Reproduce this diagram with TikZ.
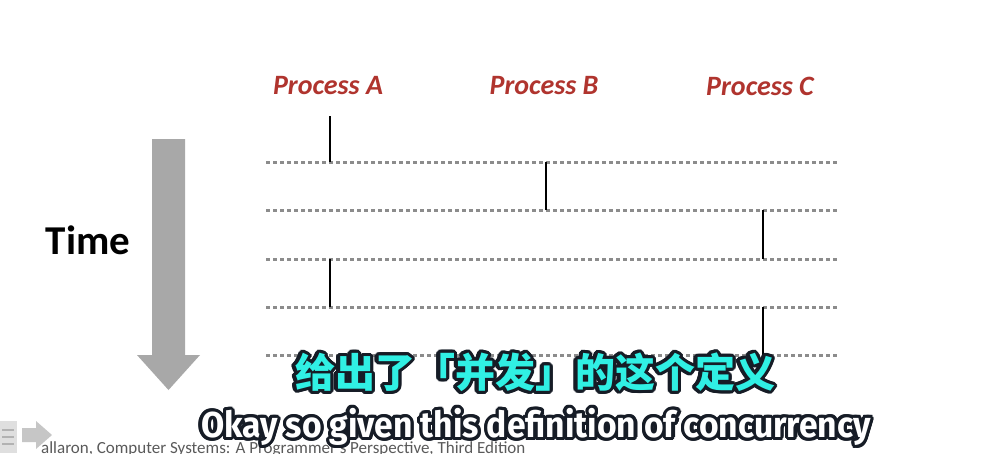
\documentclass[tikz,border=0pt]{standalone}
\usepackage{fontspec}
\newfontfamily\calib{Carlito}
\newfontfamily\cjk{Noto Sans CJK SC}
\newfontfamily\subfont{Fira Sans}
\usetikzlibrary{calc}
\definecolor{procred}{RGB}{176,52,46}
\definecolor{arrowgrey}{RGB}{168,168,168}
\definecolor{dashgrey}{RGB}{140,140,140}
\definecolor{subcyan}{RGB}{48,240,228}
\definecolor{outlinedark}{RGB}{22,28,38}
\definecolor{footgrey}{RGB}{90,90,90}
\newcommand\outlinetext[6]{% #1 name, #2 pos, #3 font, #4 text, #5 fill, #6 outline radius
  \foreach \ang in {0,20,...,340} {\node[font=#3, text=outlinedark, inner sep=0] (#1-sh-\ang) at ($#2+(\ang:#6)$) {#4};}
  \node[font=#3, text=#5, inner sep=0] (#1) at #2 {#4};}
\begin{document}
\begin{tikzpicture}[x=1pt,y=-1pt,
  proclabel/.style={text=procred, font=\calib\bfseries\itshape\fontsize{28}{28}\selectfont, inner sep=0},
  timeline/.style={dashgrey, line width=3pt, dash pattern=on 4pt off 3pt},
  active/.style={black, line width=2.6pt},
  ]
\useasboundingbox (0,0) rectangle (1007,453);
\clip (0,0) rectangle (1007,453);
\fill[white] (0,0) rectangle (1007,453);

% process labels
\node[proclabel] (pA) at (328,86) {Process A};
\node[proclabel] (pB) at (544,86) {Process B};
\node[proclabel] (pC) at (760,86) {Process C};

% time lines
\foreach \i/\y in {1/162,2/210,3/259,4/307,5/355} {
  \coordinate (L\i s) at (266,\y);
  \coordinate (L\i e) at (838,\y);
  \draw[timeline] (L\i s) -- (L\i e);
}

% active segments
\coordinate (a1t) at (330,116); \coordinate (a1b) at (330,162);
\coordinate (b1t) at (546,162); \coordinate (b1b) at (546,210);
\coordinate (c1t) at (763,210); \coordinate (c1b) at (763,259);
\coordinate (a2t) at (330,259); \coordinate (a2b) at (330,307);
\coordinate (c2t) at (763,307); \coordinate (c2b) at (763,355);
\draw[active] (a1t) -- (a1b);
\draw[active] (b1t) -- (b1b);
\draw[active] (c1t) -- (c1b);
\draw[active] (a2t) -- (a2b);
\draw[active] (c2t) -- (c2b);

% time arrow
\fill[arrowgrey] (152,139) -- (185,139) -- (185,355) -- (200,355) -- (168.5,390) -- (137,355) -- (152,355) -- cycle;
\node[font=\calib\bfseries\fontsize{41}{41}\selectfont, inner sep=0] (time) at (88,240) {Time};

% footer
\node[anchor=base west, font=\calib\fontsize{17}{17}\selectfont, text=footgrey, inner sep=0] (footer) at (41,453) {allaron, Computer Systems: A Programmer's Perspective, Third Edition};
% footer icons
\fill[gray!25] (0,421) rectangle (17,453);
\draw[gray!60, line width=1.2pt] (2,430) -- (14,430) (2,437) -- (14,437) (2,444) -- (14,444);
\fill[gray!45] (22,428) -- (36,428) -- (36,421) -- (52,435) -- (36,449) -- (36,442) -- (22,442) -- cycle;

% subtitles
\outlinetext{cnsub}{(535,372)}{\cjk\bfseries\fontsize{40}{40}\selectfont}{给出了「并发」的这个定义}{subcyan}{3.2pt}
\outlinetext{ensub}{(536,427)}{\subfont\bfseries\fontsize{36}{36}\selectfont}{\scalebox{0.935}[1]{Okay so given this definition of concurrency}}{white}{3.2pt}
\end{tikzpicture}
\end{document}
